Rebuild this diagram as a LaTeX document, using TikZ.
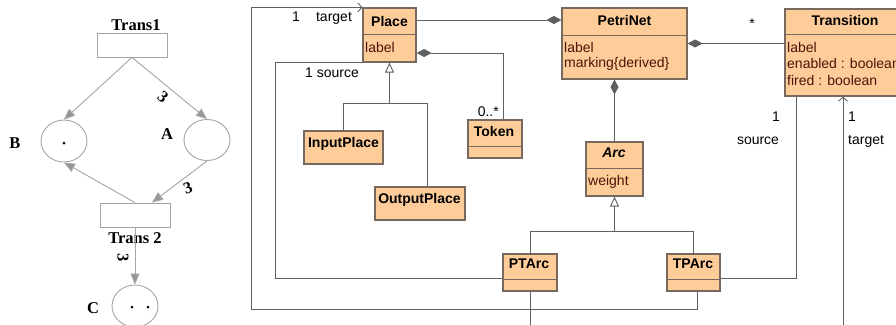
\documentclass[tikz,border=0pt]{standalone}
\usepackage{fontspec}
\setmainfont{Liberation Sans}
\newfontfamily\pnfont{Liberation Serif}
\usetikzlibrary{arrows.meta,shapes.geometric,calc}

\definecolor{clsfill}{RGB}{253,204,153}
\definecolor{clsdraw}{RGB}{120,105,95}
\definecolor{attrtxt}{RGB}{75,20,10}
\definecolor{umlline}{RGB}{95,95,95}
\definecolor{pnline}{RGB}{165,165,165}
\definecolor{pnarrow}{RGB}{150,150,150}

\newcommand\clsbox[6]{%
  \node[cls, minimum width=#4pt, minimum height=#5pt] (#1) at (#2,#3) {};
  \draw[clsdiv] ($(#1.north west)+(0,#6)$) -- ($(#1.north east)+(0,#6)$);
}

\begin{document}
\begin{tikzpicture}[x=1pt,y=-1pt,
  cls/.style={draw=clsdraw, fill=clsfill, line width=1.2pt, inner sep=0pt, rectangle},
  clsdiv/.style={draw=clsdraw, line width=1.2pt},
  cname/.style={font=\fontsize{14}{16}\selectfont\bfseries, inner sep=0pt, anchor=base},
  attr/.style={font=\fontsize{14}{16}\selectfont, text=attrtxt, inner sep=0pt, anchor=base west},
  lab/.style={font=\fontsize{14}{16}\selectfont, inner sep=0pt, anchor=base},
  conn/.style={draw=umlline, line width=0.9pt},
  comp/.style={conn, {Diamond[length=15pt,width=8pt,fill=umlline]}-},
  gen/.style={conn, -{Triangle[open,length=10pt,width=9pt,fill=white]}},
  nav/.style={conn, -{Straight Barb[length=4pt,width=9pt]}},
  pnrect/.style={draw=pnline, line width=0.9pt, rectangle, minimum width=70pt, minimum height=24pt, inner sep=0pt},
  pnell/.style={draw=pnline, line width=0.9pt, ellipse, minimum width=46pt, minimum height=41pt, inner sep=0pt},
  pnarr/.style={draw=pnline, line width=0.9pt, -{Triangle[length=11pt,width=9pt,fill=pnarrow]}},
  pntxt/.style={font=\pnfont\bfseries\fontsize{16.5}{19}\selectfont, inner sep=0pt, anchor=base},
  dot/.style={circle, fill=black, inner sep=0pt, minimum size=3pt}
]
\useasboundingbox (0,0) rectangle (896,324);
\clip (0,0) rectangle (896,324);
\fill[white] (0,0) rectangle (896,324);

% ---------------- Petri net (left) ----------------
\node[pnrect] (t1) at (132,45) {};
\node[pntxt] (t1lab) at (136,30) {Trans1};
\node[pnell, minimum height=42pt] (B) at (64,141) {};
\node[pnell] (A) at (207,140) {};
\node[pnrect] (t2) at (135,215) {};
\node[pntxt] (t2lab) at (135,243) {Trans 2};
\node[pnell, minimum height=42pt] (C) at (135,306) {};
\node[pntxt] (Blab) at (15,148) {B};
\node[pntxt] (Alab) at (167,139) {A};
\node[pntxt] (Clab) at (93,313) {C};
\node[dot] (bd) at (64,143) {};
\node[dot] (cd1) at (132,307) {};
\node[dot] (cd2) at (148,307) {};

\draw[pnarr] (t1.south) -- (B.north);
\draw[pnarr] (t1.south) -- (A.north);
\draw[pnarr] (A.south) -- ([xshift=17pt]t2.north);
\draw[pnarr] (t2.north) -- (B.south);
\draw[pnarr] (t2.south) -- (C.north);

\node[pntxt, anchor=center, rotate=-40] (w1) at (163,97) {3};
\node[pntxt, anchor=center, rotate=20] (w2) at (188,188) {3};
\node[pntxt, anchor=center, rotate=-90] (w3) at (123,258) {3};

% ---------------- UML class diagram (right) ----------------
\clsbox{place}{389.5}{35}{53}{54}{27}
\clsbox{petri}{624.5}{43.5}{125}{71}{28}
\clsbox{trans}{845}{52.5}{120}{87}{26}
\clsbox{token}{495}{139}{54}{38}{27}
\node[cls, minimum width=79pt, minimum height=33pt] (inp) at (343.5,147.5) {};
\node[cls, minimum width=90pt, minimum height=33pt] (outp) at (420,203.5) {};
\clsbox{arc}{614.5}{169}{57}{54}{27}
\clsbox{ptarc}{530}{272.5}{54}{37}{26}
\clsbox{tparc}{693.5}{272.5}{53}{37}{26}

% connectors
\draw[comp] ([yshift=23.5pt]petri.west) -- ([yshift=23.5pt]petri.west -| place.east);
\draw[comp] (petri.east) -- (petri.east -| trans.west);
\draw[comp] (arc.north |- petri.south) -- (arc.north);
\draw[comp] ([yshift=-18pt]place.east) -| ([xshift=8pt]token.north);

\coordinate (pg) at ($(place.south)+(0,41)$);
\draw[conn] (inp.north) |- (pg) -| ([xshift=7pt]outp.north);
\draw[gen] (pg) -- (place.south);

\coordinate (ag) at ($(arc.south)+(0,35)$);
\draw[conn] (ptarc.north) |- (ag) -| (tparc.north);
\draw[gen] (ag) -- (arc.south);

\draw[conn] (place.south west) -- ++(-87,0) |- ([yshift=-5.5pt]ptarc.west);
\draw[nav] ([xshift=3.5pt]tparc.south) -- ++(0,18) -| ($(place.north west)+(-111,0)$) -- (place.north west);
\draw[nav] (ptarc.south) -- ++(0,45) -| ([xshift=-2pt]trans.south);
\draw[conn] ([yshift=-5.5pt]tparc.east) -| ([xshift=-49pt]trans.south);

% class texts
\node[cname] (placen) at (389.5,26) {Place};
\node[attr] (placea) at (365,52) {label};
\node[cname] (petrin) at (624.5,25) {PetriNet};
\node[attr] (petria) at (564,52) {label};
\node[attr] (petrib) at (564,67) {marking\{derived\}};
\node[cname] (transn) at (845,25) {Transition};
\node[attr] (transa) at (787,52) {label};
\node[attr] (transb) at (787,68.5) {enabled : boolean};
\node[attr] (transc) at (787,85) {fired : boolean};
\node[cname] (tokenn) at (494,136) {Token};
\node[cname] (inpn) at (343.5,147) {InputPlace};
\node[cname] (outpn) at (419.5,203) {OutputPlace};
\node[cname, font=\fontsize{14}{16}\selectfont\bfseries\itshape] (arcn) at (614,157) {Arc};
\node[attr] (arca) at (588,185) {weight};
\node[cname] (ptarcn) at (529,268) {PTArc};
\node[cname] (tparcn) at (693,268) {TPArc};

% multiplicities / roles
\node[lab] (m1) at (752,28) {*};
\node[lab, anchor=base east] (m2) at (499,116) {0..*};
\node[lab] (m3) at (296,21) {1};
\node[lab] (m4) at (334,21) {target};
\node[lab] (m5) at (332,77) {1 source};
\node[lab] (m6) at (776,121) {1};
\node[lab] (m7) at (758,144) {source};
\node[lab, anchor=base west] (m8) at (848,121) {1};
\node[lab, anchor=base west] (m9) at (848,144) {target};
\end{tikzpicture}
\end{document}
